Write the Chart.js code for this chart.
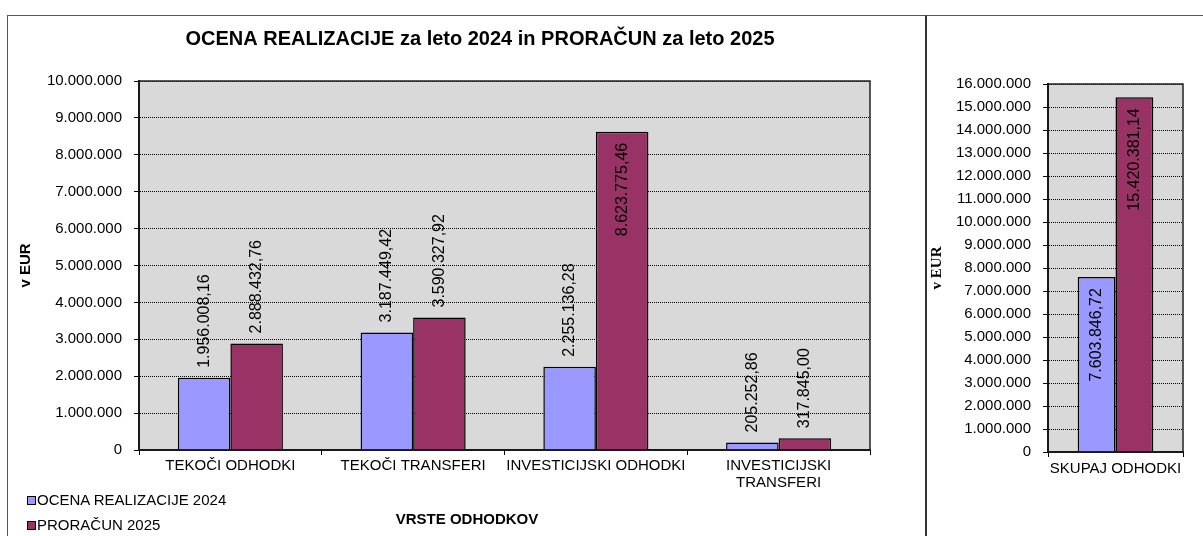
<!DOCTYPE html>
<html>
<head>
<meta charset="utf-8">
<script src="https://cdn.jsdelivr.net/npm/chart.js@4.4.1/dist/chart.umd.min.js"></script>
<style>
html,body{margin:0;padding:0;background:#fff;}
body{width:1203px;height:536px;overflow:hidden;position:relative;font-family:'Liberation Sans',Arial,sans-serif;}
#wl{position:absolute;left:0;top:0;width:960px;height:536px;z-index:1;}
#wr{position:absolute;left:927px;top:0;width:276px;height:536px;z-index:2;background:#fff;}
#fl{position:absolute;left:7px;top:15px;width:918px;height:560px;border:1px solid #555;z-index:3;pointer-events:none;}
#fr{position:absolute;left:925px;top:15px;width:300px;height:560px;border-left:2px solid #333;border-top:1px solid #555;z-index:3;pointer-events:none;}
.lg{position:absolute;left:37px;font-size:15px;line-height:18px;height:18px;white-space:nowrap;z-index:4;color:#000;}
.sw{position:absolute;left:-10px;top:5px;width:7px;height:7px;border:1px solid #000;}
</style>
</head>
<body>
<div id="wl"><canvas id="cl"></canvas></div>
<div id="wr"><canvas id="cr"></canvas></div>
<div id="fl"></div>
<div id="fr"></div>
<div class="lg" style="top:491px"><span class="sw" style="background:#9999FF"></span>OCENA REALIZACIJE 2024</div>
<div class="lg" style="top:516px"><span class="sw" style="background:#993366"></span>PRORAČUN 2025</div>
<script>
// ---- data ----
const categories = ['TEKOČI ODHODKI', 'TEKOČI TRANSFERI', 'INVESTICIJSKI ODHODKI', ['INVESTICIJSKI', 'TRANSFERI']];
const ocena2024 = [1956008.16, 3187449.42, 2255136.28, 205252.86];
const proracun2025 = [2888432.76, 3590327.92, 8623775.46, 317845.00];
const totalCategories = ['SKUPAJ ODHODKI'];
const totalOcena = [7603846.72];
const totalProracun = [15420381.14];
const seriesNames = ['OCENA REALIZACIJE 2024', 'PRORAČUN 2025'];
const chartTitle = 'OCENA REALIZACIJE za leto 2024 in PRORAČUN za leto 2025';
const xTitle = 'VRSTE ODHODKOV';
const yTitle = 'v EUR';

const COL_BLUE = '#9999FF';
const COL_RED = '#993366';
const FONT = "'Liberation Sans', Arial, sans-serif";

Chart.defaults.font.family = FONT;
Chart.defaults.color = '#000';

function fmt(v, dec) {
  const s = Number(v).toFixed(dec);
  let [i, d] = s.split('.');
  i = i.replace(/\B(?=(\d{3})+(?!\d))/g, '.');
  return d ? i + ',' + d : i;
}

const plotBg = {
  id: 'plotBg',
  beforeDraw(chart) {
    const {ctx, chartArea: a} = chart;
    ctx.save();
    ctx.fillStyle = '#D9D9D9';
    ctx.fillRect(a.left, a.top, a.width, a.height);
    ctx.restore();
  },
  afterDatasetsDraw(chart) {
    const {ctx, chartArea: a} = chart;
    ctx.save();
    ctx.strokeStyle = '#222';
    ctx.lineWidth = 1.5;
    ctx.strokeRect(a.left, a.top, a.width, a.height);
    ctx.restore();
  }
};

// centre the chart title over the whole canvas width (as in the reference)
const titleSpan = {
  id: 'titleSpan',
  afterLayout(chart) {
    const t = chart.titleBlock;
    if (t) { t.left = 0; t.right = chart.width; t.width = chart.width; }
  }
};

const barLabels = {
  id: 'barLabels',
  afterDraw(chart, args, opts) {
    const ctx = chart.ctx, area = chart.chartArea;
    ctx.save();
    ctx.font = '16px ' + FONT;
    ctx.fillStyle = '#000';
    ctx.textBaseline = 'middle';
    chart.data.datasets.forEach((ds, di) => {
      chart.getDatasetMeta(di).data.forEach((bar, i) => {
        const txt = fmt(ds.data[i], 2);
        const w = ctx.measureText(txt).width;
        const inside = opts.mode === 'inside' || (bar.y - opts.gap - w < area.top);
        ctx.save();
        if (inside) {
          ctx.translate(bar.x, bar.y + opts.gapIn);
          ctx.rotate(-Math.PI / 2);
          ctx.textAlign = 'right';
        } else {
          ctx.translate(bar.x, bar.y - opts.gap);
          ctx.rotate(-Math.PI / 2);
          ctx.textAlign = 'left';
        }
        ctx.fillText(txt, 0, 0);
        ctx.restore();
      });
    });
    ctx.restore();
  }
};

function yScale(max, yw, titleFont, titlePad) {
  return {
    min: 0, max: max,
    afterFit(s) { s.width = yw; },
    ticks: { stepSize: 1000000, padding: 12, font: { size: 15 }, color: '#000', callback: v => fmt(v, 0) },
    grid: { display: true, drawOnChartArea: true, drawTicks: true, tickLength: 5, color: '#000', lineWidth: 1,
            tickColor: '#000', tickWidth: 1, tickBorderDash: [] },
    border: { display: true, color: '#000', width: 2, dash: [1, 1] },
    title: { display: true, text: yTitle, font: titleFont, color: '#000', padding: { top: titlePad, bottom: 0 } }
  };
}

function ds(label, data, color) {
  return { label, data, backgroundColor: color, borderColor: '#000', borderWidth: 1.5, borderSkipped: 'start',
           categoryPercentage: 0.575, barPercentage: 1.0 };
}

new Chart(document.getElementById('cl'), {
  type: 'bar',
  data: {
    labels: categories,
    datasets: [ds(seriesNames[0], ocena2024, COL_BLUE), ds(seriesNames[1], proracun2025, COL_RED)]
  },
  plugins: [plotBg, barLabels, titleSpan],
  options: {
    responsive: true, maintainAspectRatio: false, animation: false,
    layout: { padding: { left: 0, right: 90, top: 0, bottom: 0 } },
    plugins: {
      legend: { display: false },
      tooltip: { enabled: false },
      title: { display: true, text: chartTitle, color: '#000', font: { size: 20, weight: 'bold' }, padding: { top: 27, bottom: 30 } },
      barLabels: { mode: 'auto', gap: 10, gapIn: 11 }
    },
    scales: {
      x: {
        afterFit(s) { s.height = 86; },
        grid: { display: true, drawOnChartArea: false, drawTicks: true, tickLength: 5, color: '#000', tickColor: '#000', offset: true },
        border: { display: true, color: '#000', width: 2 },
        ticks: { padding: 3, font: { size: 15, lineHeight: 1.1 }, color: '#000', maxRotation: 0, autoSkip: false },
        title: { display: true, text: xTitle + '                  ', color: '#000', font: { size: 15, weight: 'bold' }, padding: { top: 0, bottom: 7 } }
      },
      y: yScale(10000000, 139, { size: 15, weight: 'bold' }, 17)
    }
  }
});

const dsR = (label, data, color) => Object.assign(ds(label, data, color), { categoryPercentage: 0.56 });

new Chart(document.getElementById('cr'), {
  type: 'bar',
  data: {
    labels: totalCategories,
    datasets: [dsR(seriesNames[0], totalOcena, COL_BLUE), dsR(seriesNames[1], totalProracun, COL_RED)]
  },
  plugins: [plotBg, barLabels],
  options: {
    responsive: true, maintainAspectRatio: false, animation: false,
    layout: { padding: { left: 0, right: 20, top: 84, bottom: 0 } },
    plugins: {
      legend: { display: false },
      tooltip: { enabled: false },
      title: { display: false },
      barLabels: { mode: 'inside', gap: 10, gapIn: 11 }
    },
    scales: {
      x: {
        afterFit(s) { s.height = 84; },
        grid: { display: true, drawOnChartArea: false, drawTicks: true, tickLength: 5, color: '#000', tickColor: '#000', offset: true },
        border: { display: true, color: '#000', width: 2 },
        ticks: { padding: 3, font: { size: 15 }, color: '#000', maxRotation: 0, autoSkip: false }
      },
      y: yScale(16000000, 121, { size: 15, weight: 'bold', family: "'Liberation Serif', 'Times New Roman', serif" }, 1)
    }
  }
});
</script>
</body>
</html>
